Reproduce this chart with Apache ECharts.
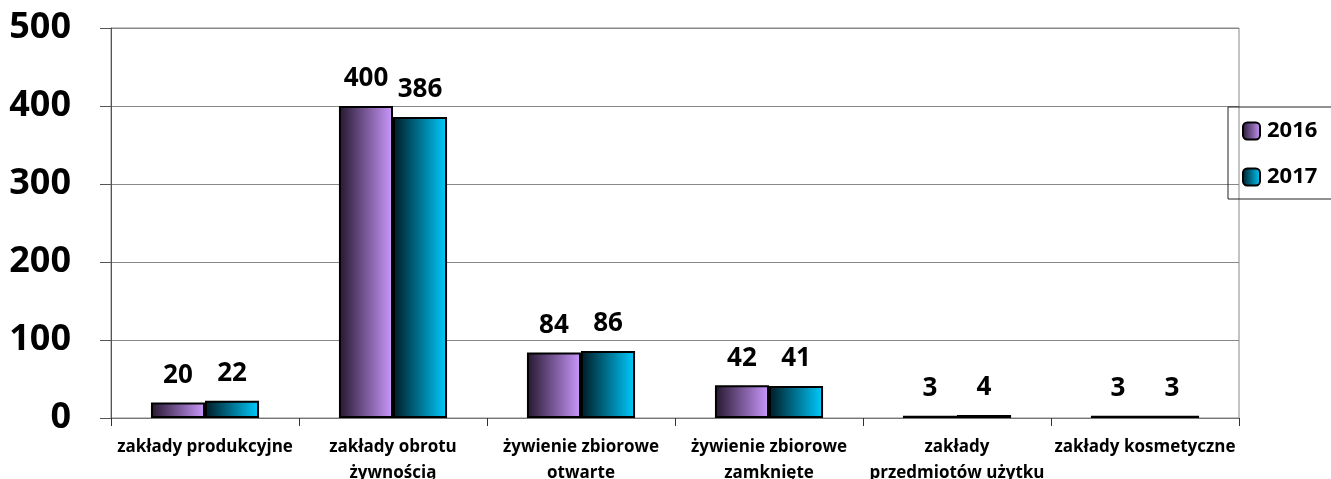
<!DOCTYPE html>
<html><head><meta charset="utf-8">
<script src="https://cdn.jsdelivr.net/npm/echarts@6/dist/echarts.min.js"></script>
<style>html,body{margin:0;padding:0;background:#fff}#c{width:1331px;height:479px}</style>
</head><body><div id="c"></div>
<script>
const categories = ["zakłady produkcyjne","zakłady obrotu\nżywnością","żywienie zbiorowe\notwarte","żywienie zbiorowe\nzamknięte","zakłady\nprzedmiotów użytku","zakłady kosmetyczne"];
const series2016 = [20,400,84,42,3,3];
const series2017 = [22,386,86,41,4,3];
const seriesNames = ["2016","2017"];
const yTicks = {min:0,max:500,interval:100};

const FONT = '"Open Sans", "Noto Sans", sans-serif';
function grad(c1,c2){return new echarts.graphic.LinearGradient(0,0,1,0,[{offset:0,color:c1},{offset:1,color:c2}]);}
const label = {show:true,position:'top',distance:14,fontFamily:FONT,fontWeight:'bold',fontSize:26,color:'#000'};
const chart = echarts.init(document.getElementById('c'),null,{renderer:'canvas'});
chart.setOption({
  animation:false,
  backgroundColor:'#fff',
  grid:{left:111,right:92,top:28,bottom:61,containLabel:false,outerBoundsMode:'none',show:true,borderColor:'#888',borderWidth:1},
  legend:{orient:'vertical',left:1228,top:107,padding:[13,40,11,14],itemGap:24,itemWidth:17,itemHeight:17,
    borderColor:'#222',borderWidth:1,
    textStyle:{fontFamily:FONT,fontWeight:'bold',fontSize:22,color:'#000',padding:[0,0,0,2]},
    data:seriesNames},
  xAxis:{type:'category',data:categories,
    axisLine:{lineStyle:{color:'#777',width:1}},
    axisTick:{show:true,length:8,lineStyle:{color:'#333'}},
    axisLabel:{fontFamily:FONT,fontWeight:'bold',fontSize:17,color:'#000',margin:16,lineHeight:26,interval:0}},
  yAxis:{type:'value',min:yTicks.min,max:yTicks.max,interval:yTicks.interval,
    axisLine:{show:true,lineStyle:{color:'#555',width:1}},
    axisTick:{show:true,inside:false,length:11,lineStyle:{color:'#555'}},
    splitLine:{lineStyle:{color:'#888',width:1}},
    axisLabel:{fontFamily:FONT,fontWeight:'bold',fontSize:36,color:'#000',margin:40}},
  series:[
    {name:seriesNames[0],type:'bar',data:series2016,barGap:'0%',barCategoryGap:'42.5%',
     itemStyle:{color:grad('#24172e','#cc99ff'),borderColor:'#000',borderWidth:2},label:label},
    {name:seriesNames[1],type:'bar',data:series2017,
     itemStyle:{color:grad('#001a24','#00ccff'),borderColor:'#000',borderWidth:2},label:label}
  ]
});
</script></body></html>
